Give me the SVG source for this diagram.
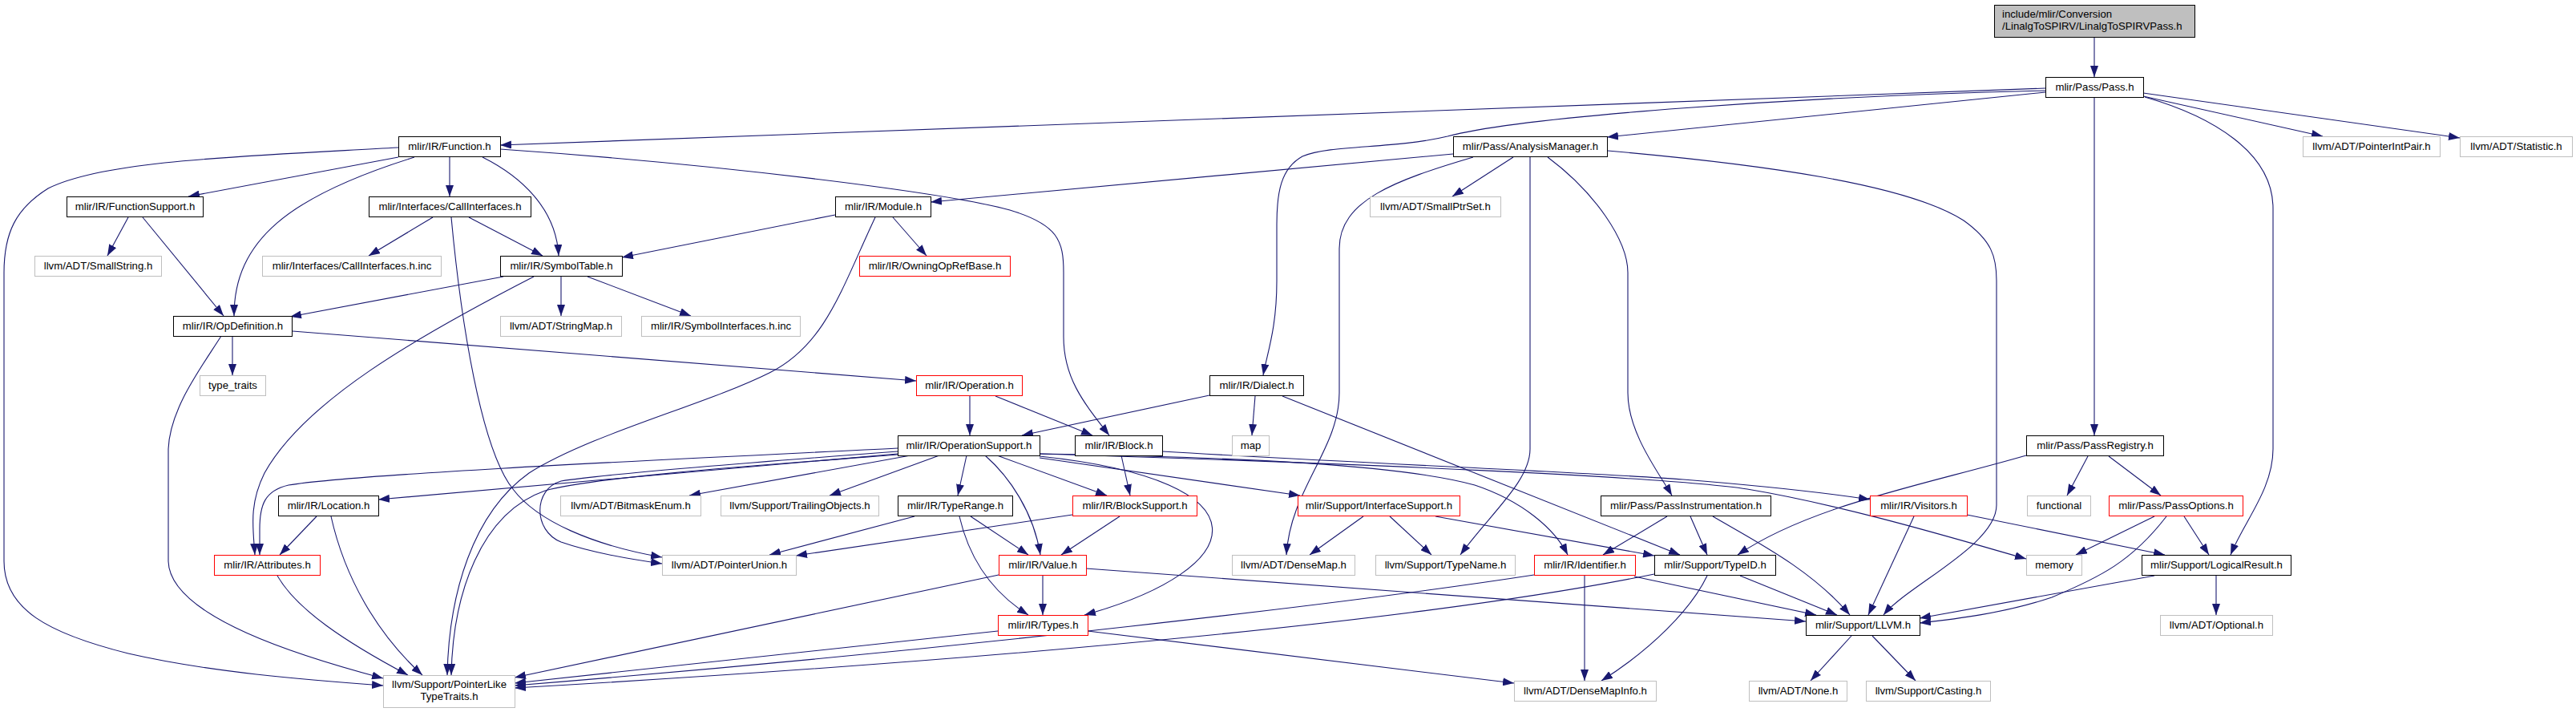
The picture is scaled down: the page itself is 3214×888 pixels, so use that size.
<svg xmlns="http://www.w3.org/2000/svg" width="3214" height="888" viewBox="0 0 3214 888">
<defs>
<marker id="a" markerUnits="userSpaceOnUse" markerWidth="14" markerHeight="10" refX="14" refY="5" orient="auto" viewBox="0 0 14 10"><path d="M0,0L14,5L0,10z" fill="#191970"/></marker>
<style>
.nd rect{fill:#fff;stroke:#000;stroke-width:1}
.nd.g rect{stroke:#bfbfbf}
.nd.r rect{stroke:#ff0000}
.nd.root rect{fill:#bfbfbf;stroke:#000}
.nd text{font-family:"Liberation Sans",Arial,Helvetica,sans-serif;font-size:13.2px;fill:#000;text-anchor:middle}
.nd.root text{text-anchor:start}
#edges path{fill:none;stroke:#191970;stroke-width:1.1;marker-end:url(#a)}
</style>
</defs>
<rect width="3214" height="888" fill="#fff"/>
<g id="edges">
<path d="M2613,46 L2613,96"/>
<path d="M2552,110 L624,181"/>
<path d="M2552,115 L2005,171"/>
<path d="M2552,113 C2250,120 1900,145 1806,170 C1740,186 1660,180 1625,195 C1598,210 1593,240 1593,280 L1593,350 C1593,410 1581,440 1576,468"/>
<path d="M2613,121 L2613,543"/>
<path d="M2674,120 L2898,170"/>
<path d="M2674,116 L3069,172"/>
<path d="M2676,121 C2760,145 2836,190 2836,260 L2836,560 C2836,610 2800,650 2783,692"/>
<path d="M497,196 L235,245"/>
<path d="M517,196 C360,245 292,300 292,394"/>
<path d="M561,196 L561,245"/>
<path d="M602,196 C650,220 694,260 697,319"/>
<path d="M624,186 C900,205 1180,240 1260,262 C1320,280 1327,300 1327,340 L1327,420 C1327,470 1350,500 1384,543"/>
<path d="M497,184 C300,195 130,200 60,235 C20,260 5,290 5,340 L5,700 C5,760 60,790 160,815 C260,838 380,848 478,855"/>
<path d="M160,271 L134,319"/>
<path d="M178,271 L279,394"/>
<path d="M540,271 L460,319"/>
<path d="M585,271 L677,319"/>
<path d="M563,271 C575,400 600,560 640,610 C670,650 740,680 826,695"/>
<path d="M628,345 L362,395"/>
<path d="M700,345 L700,394"/>
<path d="M733,345 L862,394"/>
<path d="M666,345 C520,420 380,500 330,590 C310,630 316,660 318,692"/>
<path d="M1042,268 L776,321"/>
<path d="M1114,271 L1156,319"/>
<path d="M1092,271 C1050,360 1030,430 960,465 C880,505 740,540 660,590 C590,640 560,740 558,842"/>
<path d="M290,419 L290,468"/>
<path d="M365,413 L1143,475"/>
<path d="M276,419 C250,460 212,510 210,560 L210,700 C212,770 380,820 478,846"/>
<path d="M1813,192 L1161,252"/>
<path d="M1888,196 L1812,245"/>
<path d="M1838,196 C1740,225 1671,250 1671,310 L1671,490 C1671,560 1610,610 1605,692"/>
<path d="M1909,196 L1909,560 C1909,600 1860,640 1822,692"/>
<path d="M1931,196 C1990,240 2031,300 2031,340 L2031,490 C2031,540 2070,590 2086,618"/>
<path d="M2006,188 C2200,205 2380,230 2450,275 C2485,300 2491,320 2491,350 L2491,630 C2491,680 2380,730 2350,767"/>
<path d="M1509,493 L1275,543"/>
<path d="M1566,494 L1562,543"/>
<path d="M1600,494 L2096,692"/>
<path d="M1210,494 L1210,543"/>
<path d="M1242,494 L1363,543"/>
<path d="M1120,559 C900,570 450,590 360,605 C330,612 324,630 324,660 L324,692"/>
<path d="M1120,563 C1000,572 760,590 700,600 C665,610 665,662 700,676 C740,690 790,698 826,703"/>
<path d="M1120,566 L472,623"/>
<path d="M1120,567 C950,580 740,595 680,612 C600,640 565,740 563,842"/>
<path d="M1136,568 L860,618"/>
<path d="M1172,568 L1035,618"/>
<path d="M1206,568 L1195,618"/>
<path d="M1229,568 C1260,595 1290,640 1298,692"/>
<path d="M1244,568 L1381,618"/>
<path d="M1297,569 C1590,600 1560,710 1353,767"/>
<path d="M1297,571 L1622,618"/>
<path d="M1297,566 C1550,570 1750,580 1840,605 C1900,625 1940,660 1956,692"/>
<path d="M1297,566 C1700,578 2080,595 2180,610 C2300,630 2440,672 2528,697"/>
<path d="M1450,563 C1700,578 2000,590 2100,598 C2200,606 2280,615 2333,623"/>
<path d="M1399,568 L1410,618"/>
<path d="M2605,569 L2579,618"/>
<path d="M2631,569 L2696,618"/>
<path d="M2528,568 C2400,605 2260,630 2168,692"/>
<path d="M395,644 L349,692"/>
<path d="M413,644 C430,720 470,790 527,842"/>
<path d="M1141,644 L960,692"/>
<path d="M1211,644 L1283,692"/>
<path d="M1197,644 C1210,700 1240,740 1283,767"/>
<path d="M1338,642 L993,693"/>
<path d="M1397,644 L1324,692"/>
<path d="M1701,644 L1634,692"/>
<path d="M1734,644 L1786,692"/>
<path d="M1791,644 L2064,693"/>
<path d="M2080,644 L2000,692"/>
<path d="M2109,644 L2130,692"/>
<path d="M2137,644 C2190,675 2260,710 2308,767"/>
<path d="M2388,644 L2331,767"/>
<path d="M2454,642 L2701,692"/>
<path d="M2688,644 L2590,692"/>
<path d="M2703,644 C2660,700 2620,720 2560,745 C2500,765 2440,772 2395,777"/>
<path d="M2725,644 L2756,692"/>
<path d="M2765,718 L2765,767"/>
<path d="M2688,718 L2395,771"/>
<path d="M1977,718 L1977,849"/>
<path d="M2039,719 L2266,767"/>
<path d="M1914,717 C1700,750 1200,810 642,855"/>
<path d="M2130,718 C2110,760 2060,810 1998,849"/>
<path d="M2171,718 L2292,767"/>
<path d="M2064,716 C1800,770 1300,820 642,858"/>
<path d="M346,718 C370,760 430,800 509,842"/>
<path d="M1301,718 L1301,767"/>
<path d="M1246,717 L642,845"/>
<path d="M1355,709 L2253,775"/>
<path d="M1245,787 L642,852"/>
<path d="M1357,787 L1889,852"/>
<path d="M2310,793 L2259,849"/>
<path d="M2336,793 L2390,849"/>
</g>
<g id="n_root" class="nd root"><rect x="2488.5" y="6.5" width="250" height="40"/><text x="2498" y="22">include/mlir/Conversion</text><text x="2498" y="37">/LinalgToSPIRV/LinalgToSPIRVPass.h</text></g>
<g id="n_pass" class="nd"><rect x="2552.5" y="96.5" width="122" height="25"/><text x="2613.5" y="113">mlir/Pass/Pass.h</text></g>
<g id="n_pointerintpair" class="nd g"><rect x="2873.5" y="170.5" width="171" height="25"/><text x="2959" y="187">llvm/ADT/PointerIntPair.h</text></g>
<g id="n_statistic" class="nd g"><rect x="3069.5" y="170.5" width="140" height="25"/><text x="3139.5" y="187">llvm/ADT/Statistic.h</text></g>
<g id="n_function" class="nd"><rect x="497.5" y="170.5" width="127" height="25"/><text x="561" y="187">mlir/IR/Function.h</text></g>
<g id="n_analysismanager" class="nd"><rect x="1813.5" y="170.5" width="192" height="25"/><text x="1909.5" y="187">mlir/Pass/AnalysisManager.h</text></g>
<g id="n_functionsupport" class="nd"><rect x="83.5" y="245.5" width="170" height="25"/><text x="168.5" y="262">mlir/IR/FunctionSupport.h</text></g>
<g id="n_callinterfaces" class="nd"><rect x="460.5" y="245.5" width="202" height="25"/><text x="561.5" y="262">mlir/Interfaces/CallInterfaces.h</text></g>
<g id="n_module" class="nd"><rect x="1042.5" y="245.5" width="119" height="25"/><text x="1102" y="262">mlir/IR/Module.h</text></g>
<g id="n_smallptrset" class="nd g"><rect x="1709.5" y="245.5" width="163" height="25"/><text x="1791" y="262">llvm/ADT/SmallPtrSet.h</text></g>
<g id="n_smallstring" class="nd g"><rect x="43.5" y="319.5" width="158" height="25"/><text x="122.5" y="336">llvm/ADT/SmallString.h</text></g>
<g id="n_callinterfacesinc" class="nd g"><rect x="327.5" y="319.5" width="223" height="25"/><text x="439" y="336">mlir/Interfaces/CallInterfaces.h.inc</text></g>
<g id="n_symboltable" class="nd"><rect x="624.5" y="319.5" width="152" height="25"/><text x="700.5" y="336">mlir/IR/SymbolTable.h</text></g>
<g id="n_owningopref" class="nd r"><rect x="1072.5" y="319.5" width="188" height="25"/><text x="1166.5" y="336">mlir/IR/OwningOpRefBase.h</text></g>
<g id="n_opdefinition" class="nd"><rect x="216.5" y="394.5" width="148" height="25"/><text x="290.5" y="411">mlir/IR/OpDefinition.h</text></g>
<g id="n_stringmap" class="nd g"><rect x="624.5" y="394.5" width="151" height="25"/><text x="700" y="411">llvm/ADT/StringMap.h</text></g>
<g id="n_symbolinterfacesinc" class="nd g"><rect x="800.5" y="394.5" width="198" height="25"/><text x="899.5" y="411">mlir/IR/SymbolInterfaces.h.inc</text></g>
<g id="n_typetraits" class="nd g"><rect x="249.5" y="468.5" width="82" height="25"/><text x="290.5" y="485">type_traits</text></g>
<g id="n_operation" class="nd r"><rect x="1143.5" y="468.5" width="132" height="25"/><text x="1209.5" y="485">mlir/IR/Operation.h</text></g>
<g id="n_dialect" class="nd"><rect x="1509.5" y="468.5" width="117" height="25"/><text x="1568" y="485">mlir/IR/Dialect.h</text></g>
<g id="n_operationsupport" class="nd"><rect x="1120.5" y="543.5" width="177" height="25"/><text x="1209" y="560">mlir/IR/OperationSupport.h</text></g>
<g id="n_block" class="nd"><rect x="1341.5" y="543.5" width="109" height="25"/><text x="1396" y="560">mlir/IR/Block.h</text></g>
<g id="n_map" class="nd g"><rect x="1537.5" y="543.5" width="46" height="25"/><text x="1560.5" y="560">map</text></g>
<g id="n_passregistry" class="nd"><rect x="2528.5" y="543.5" width="171" height="25"/><text x="2614" y="560">mlir/Pass/PassRegistry.h</text></g>
<g id="n_location" class="nd"><rect x="347.5" y="618.5" width="125" height="25"/><text x="410" y="635">mlir/IR/Location.h</text></g>
<g id="n_bitmaskenum" class="nd g"><rect x="699.5" y="618.5" width="175" height="25"/><text x="787" y="635">llvm/ADT/BitmaskEnum.h</text></g>
<g id="n_trailingobjects" class="nd g"><rect x="899.5" y="618.5" width="197" height="25"/><text x="998" y="635">llvm/Support/TrailingObjects.h</text></g>
<g id="n_typerange" class="nd"><rect x="1120.5" y="618.5" width="143" height="25"/><text x="1192" y="635">mlir/IR/TypeRange.h</text></g>
<g id="n_blocksupport" class="nd r"><rect x="1338.5" y="618.5" width="155" height="25"/><text x="1416" y="635">mlir/IR/BlockSupport.h</text></g>
<g id="n_interfacesupport" class="nd r"><rect x="1619.5" y="618.5" width="202" height="25"/><text x="1720.5" y="635">mlir/Support/InterfaceSupport.h</text></g>
<g id="n_passinstrumentation" class="nd"><rect x="1997.5" y="618.5" width="212" height="25"/><text x="2103.5" y="635">mlir/Pass/PassInstrumentation.h</text></g>
<g id="n_visitors" class="nd r"><rect x="2333.5" y="618.5" width="121" height="25"/><text x="2394" y="635">mlir/IR/Visitors.h</text></g>
<g id="n_functional" class="nd g"><rect x="2529.5" y="618.5" width="79" height="25"/><text x="2569" y="635">functional</text></g>
<g id="n_passoptions" class="nd r"><rect x="2631.5" y="618.5" width="167" height="25"/><text x="2715" y="635">mlir/Pass/PassOptions.h</text></g>
<g id="n_attributes" class="nd r"><rect x="267.5" y="692.5" width="132" height="25"/><text x="333.5" y="709">mlir/IR/Attributes.h</text></g>
<g id="n_pointerunion" class="nd g"><rect x="826.5" y="692.5" width="167" height="25"/><text x="910" y="709">llvm/ADT/PointerUnion.h</text></g>
<g id="n_value" class="nd r"><rect x="1246.5" y="692.5" width="109" height="25"/><text x="1301" y="709">mlir/IR/Value.h</text></g>
<g id="n_densemap" class="nd g"><rect x="1537.5" y="692.5" width="153" height="25"/><text x="1614" y="709">llvm/ADT/DenseMap.h</text></g>
<g id="n_typename" class="nd g"><rect x="1716.5" y="692.5" width="174" height="25"/><text x="1803.5" y="709">llvm/Support/TypeName.h</text></g>
<g id="n_identifier" class="nd r"><rect x="1914.5" y="692.5" width="126" height="25"/><text x="1977.5" y="709">mlir/IR/Identifier.h</text></g>
<g id="n_typeid" class="nd"><rect x="2064.5" y="692.5" width="151" height="25"/><text x="2140" y="709">mlir/Support/TypeID.h</text></g>
<g id="n_memory" class="nd g"><rect x="2528.5" y="692.5" width="69" height="25"/><text x="2563" y="709">memory</text></g>
<g id="n_logicalresult" class="nd"><rect x="2672.5" y="692.5" width="186" height="25"/><text x="2765.5" y="709">mlir/Support/LogicalResult.h</text></g>
<g id="n_types" class="nd r"><rect x="1245.5" y="767.5" width="112" height="25"/><text x="1301.5" y="784">mlir/IR/Types.h</text></g>
<g id="n_llvm" class="nd"><rect x="2253.5" y="767.5" width="142" height="25"/><text x="2324.5" y="784">mlir/Support/LLVM.h</text></g>
<g id="n_optional" class="nd g"><rect x="2695.5" y="767.5" width="140" height="25"/><text x="2765.5" y="784">llvm/ADT/Optional.h</text></g>
<g id="n_pointerliketypetraits" class="nd g"><rect x="478.5" y="842.5" width="164" height="40"/><text x="560.5" y="858">llvm/Support/PointerLike</text><text x="560.5" y="873">TypeTraits.h</text></g>
<g id="n_densemapinfo" class="nd g"><rect x="1889.5" y="849.5" width="177" height="25"/><text x="1978" y="866">llvm/ADT/DenseMapInfo.h</text></g>
<g id="n_none" class="nd g"><rect x="2182.5" y="849.5" width="122" height="25"/><text x="2243.5" y="866">llvm/ADT/None.h</text></g>
<g id="n_casting" class="nd g"><rect x="2328.5" y="849.5" width="155" height="25"/><text x="2406" y="866">llvm/Support/Casting.h</text></g>
</svg>
